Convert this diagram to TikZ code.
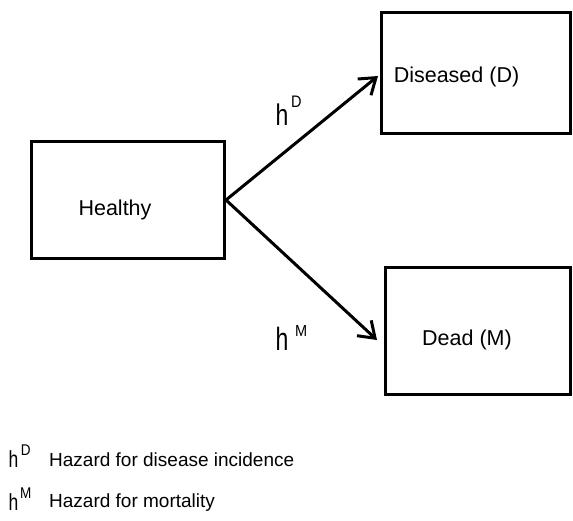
\documentclass[tikz,border=0pt]{standalone}
\usepackage{fontspec}
\setmainfont{Liberation Sans}
\usetikzlibrary{arrows.meta}
\newcommand{\tallh}[1]{\scalebox{1}[#1]{h}}
\newcommand{\tallsup}[2]{\scalebox{1}[#1]{#2}}
\begin{document}
\begin{tikzpicture}[x=1pt,y=-1pt,
  box/.style={draw,line width=3pt,rectangle,inner sep=0pt},
  txt/.style={inner sep=0pt,anchor=base,font=\fontsize{21.5}{25}\selectfont},
  hl/.style={inner sep=0pt,anchor=base west,font=\fontsize{23}{27}\selectfont},
  sup/.style={inner sep=0pt,anchor=base west,font=\fontsize{14.5}{16}\selectfont},
  lh/.style={inner sep=0pt,anchor=base west,font=\fontsize{17.5}{21}\selectfont},
  ltxt/.style={inner sep=0pt,anchor=base west,font=\fontsize{19}{22}\selectfont},
  lsup/.style={inner sep=0pt,anchor=base west,font=\fontsize{13.5}{15}\selectfont},
  arr/.style={line width=3pt,-{Straight Barb[length=15pt,width=21pt,line width=3pt]}}]
\useasboundingbox (0,0) rectangle (573,520);
% boxes
\node[box,minimum width=193pt,minimum height=117pt] (H) at (128,200) {};
\node[box,minimum width=189pt,minimum height=121pt] (D) at (476,73) {};
\node[box,minimum width=185pt,minimum height=127pt] (M) at (478,331) {};
% box texts
\node[txt] (Ht) at (115,215) {Healthy};
\node[txt] (Dt) at (456.5,82) {Diseased (D)};
\node[txt] (Mt) at (467,345) {Dead (M)};
% arrow tips
\coordinate (tD) at (378,76);
\coordinate (tM) at (377,340);
\draw[arr] (H.east) -- (tD);
\draw[arr] (H.east) -- (tM);
% arrow labels
\node[hl] (hD) at (275.5,125) {\tallh{1.3}};
\node[sup] (hDs) at (291,107) {\tallsup{1.15}{D}};
\node[hl] (hM) at (275.5,350) {\tallh{1.4}};
\node[sup] (hMs) at (295,336) {\tallsup{1.1}{M}};
% legend
\node[lh] (l1h) at (8.5,467) {\tallh{1.33}};
\node[lsup] (l1s) at (20.7,455) {\tallsup{1.15}{D}};
\node[ltxt] (l1t) at (49,466) {Hazard for disease incidence};
\node[lh] (l2h) at (8.5,510) {\tallh{1.33}};
\node[lsup] (l2s) at (20,498) {\tallsup{1.15}{M}};
\node[ltxt] (l2t) at (49,507) {Hazard for mortality};
\end{tikzpicture}
\end{document}
